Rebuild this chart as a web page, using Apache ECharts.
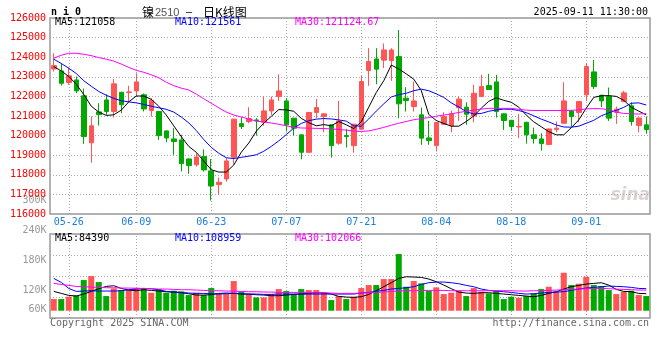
<!DOCTYPE html>
<html><head><meta charset="utf-8">
<script src="https://cdn.jsdelivr.net/npm/echarts@6/dist/echarts.min.js"></script>
<style>html,body{margin:0;padding:0;background:#fff}#c{width:660px;height:360px}</style>
</head><body><div id="c"></div>
<script>
// ---------- DATA ----------
const dates = ['05-22','05-23','05-26','05-27','05-28','05-29','05-30','06-03','06-04','06-05',
'06-06','06-09','06-10','06-11','06-12','06-13','06-16','06-17','06-18','06-19',
'06-20','06-23','06-24','06-25','06-26','06-27','06-30','07-01','07-02','07-03',
'07-04','07-07','07-08','07-09','07-10','07-11','07-14','07-15','07-16','07-17',
'07-18','07-21','07-22','07-23','07-24','07-25','07-28','07-29','07-30','07-31',
'08-01','08-04','08-05','08-06','08-07','08-08','08-11','08-12','08-13','08-14',
'08-15','08-18','08-19','08-20','08-21','08-22','08-25','08-26','08-27','08-28',
'08-29','09-01','09-02','09-03','09-04','09-05','09-08','09-09','09-10','09-11'];
const opens = [123400,123300,122710,122840,122030,119630,121210,121820,121230,122210,
122200,122280,122080,121280,121230,120240,119830,119780,118810,118510,
118930,118200,117500,117790,118900,120610,120720,120800,120680,121260,
121990,121770,120890,120040,119150,121180,120970,120550,119610,120000,
119490,120330,123320,123910,123850,123830,124030,121910,121480,121060,
119880,119490,120580,120500,121430,121450,121000,121990,122550,122740,
121110,120780,120440,120680,120040,119830,119540,120310,120630,121260,
121180,122080,123250,122060,121990,121180,121740,121520,120510,120550];
const closes = [123570,122670,123050,122280,119950,120500,121070,121230,122640,121570,
122230,122740,121360,121800,120000,119880,119700,118570,118470,118910,
118250,117430,117620,118710,120840,120460,120870,120750,121260,121820,
122280,120550,120380,119150,121180,121430,121110,119490,120750,119950,
120580,122760,123780,123390,124370,124370,121620,121790,121770,119870,
119750,120670,120970,121110,121860,121090,122160,122500,122350,121230,
120770,120460,120470,120040,119850,119590,120340,120380,121770,120970,
121740,123520,122500,121770,120890,121350,122180,120720,120900,120310];
const lows = [123270,122550,122590,122160,119580,118620,120510,121060,120920,121140,
121700,121990,121230,120970,119780,119660,119020,118170,118050,118420,
118170,116690,117010,117650,118560,120340,120630,120000,120500,121060,
121770,120210,120000,118790,119100,120890,120170,118880,119530,119390,
119130,120290,122540,122620,123440,122790,120890,121230,121230,119530,
119530,119190,120550,120170,120750,120550,120680,121970,122330,120920,
120290,120240,119870,119590,119590,119240,119530,120170,120620,120460,
120680,121770,122380,121450,120750,120600,121700,120510,120170,120090];
const highs = [124200,123690,123470,123010,122400,120970,121650,122110,122890,122230,
122540,123180,122150,121910,121260,120260,120380,120040,118830,119100,
119300,118810,117860,118850,120860,120940,121450,120890,121990,121990,
123130,121910,120900,120060,121200,121870,121120,120560,121770,120340,
120600,123050,124460,124460,124700,124460,125390,122470,122760,121430,
120750,120680,121190,121280,121990,121700,122590,123100,123150,123100,
121130,120800,121110,120700,120410,120120,120360,120720,122720,121280,
121760,123690,123860,122080,122450,121480,122280,121700,120920,120970];
const ma5 = [123520,123300,123020,122620,122100,121500,121200,121030,121060,121300,
121720,122020,122020,121850,121500,121050,120500,119950,119450,119150,
118700,118260,118140,118140,118500,119150,119620,120220,120640,120980,
121330,121310,121240,120880,120660,120500,120560,120500,120720,120550,
120360,120700,121450,122200,122800,123600,123400,123150,122880,122300,
121080,120770,120620,120480,120480,120720,121000,121400,121750,121930,
121800,121700,121450,121050,120700,120450,120200,120040,120040,120400,
120800,121400,121950,122030,122040,122000,121800,121450,121250,121058];
const ma10 = [123900,123680,123440,123170,122800,122520,122250,122060,121900,121780,
121720,121670,121590,121500,121420,121340,121200,120950,120650,120260,
119800,119400,119100,118870,118830,118890,118950,119020,119200,119450,
119730,120050,120380,120620,120760,120840,120870,120850,120800,120740,
120500,120480,120850,121250,121620,121970,122090,122160,122290,122370,
122290,122130,121950,121670,121460,121220,121100,121130,121240,121310,
121350,121340,121280,121170,121010,120840,120700,120540,120440,120430,
120480,120630,120780,121010,121160,121290,121440,121650,121670,121561];
const ma30 = [123950,124100,124200,124200,124150,124080,123980,123900,123800,123650,
123480,123330,123230,123100,122950,122720,122550,122420,122330,122120,
121880,121650,121420,121200,121050,120950,120850,120740,120700,120640,
120580,120500,120420,120390,120380,120370,120360,120340,120310,120280,
120230,120210,120240,120320,120420,120530,120630,120720,120810,120870,
120920,120990,121050,121110,121180,121240,121300,121350,121390,121390,
121390,121390,121340,121300,121280,121280,121280,121280,121280,121290,
121310,121360,121380,121370,121320,121200,121130,121110,121100,121125];
const volumes = [57750,57750,69300,75900,151800,171600,141900,72600,110550,102300,
102300,113850,110550,89100,107250,89100,99000,95700,77550,89100,
77550,112200,82500,82500,146850,95700,82500,66000,66000,82500,
107250,97350,82500,107250,102300,102300,90750,52800,72600,57750,
69300,112200,127050,127050,156750,156750,280500,118800,146850,135300,
99000,115500,82500,89100,99000,72600,112200,94050,85800,99000,
57750,69300,64350,72600,85800,107250,118800,94050,188100,127050,
133650,168300,127050,122100,102300,82500,94050,99000,77550,72600];
const volMa5 = [95700,85800,75900,72600,82500,95700,108900,120450,123750,110550,
102300,99000,103950,100650,97350,94050,92400,89100,84150,77550,
77550,79200,85800,87450,85800,82500,82500,79200,77550,74250,
74250,77550,80850,82500,85800,89100,87450,82500,70950,67650,
66000,69300,80850,99000,118800,138600,160050,168300,166650,165000,
156750,143550,127050,108900,92400,87450,85800,89100,89100,85800,
82500,79200,75900,72600,69300,75900,85800,94050,107250,118800,
125400,132000,135300,138600,127050,105600,95700,94050,85800,84390];
const volMa10 = [160050,140250,110550,95700,97350,99000,97350,97350,97350,99000,
103950,107250,110550,108900,103950,95700,92400,90750,87450,85800,
85800,84150,82500,84150,85800,84150,82500,82500,80850,80850,
82500,82500,82500,82500,82500,82500,82500,82500,82500,82500,
82500,87450,90750,95700,100650,107250,110550,113850,118800,130350,
138600,141900,141900,138600,133650,125400,118800,107250,100650,97350,
94050,90750,85800,82500,84150,87450,90750,92400,94050,100650,
107250,112200,115500,118800,122100,120450,118800,115500,110550,108959];
const volMa30 = [135300,130350,125400,120450,118800,117150,115500,113850,113850,112200,
112200,110550,110550,108900,107250,107250,105600,103950,103950,102300,
100650,99000,99000,97350,97350,95700,94050,94050,92400,92400,
90750,90750,90750,90750,90750,89100,89100,87450,85800,85800,
85800,87450,89100,90750,92400,95700,97350,99000,99000,100650,
100650,100650,100650,99000,99000,99000,99000,99000,99000,99000,
99000,99000,97350,97350,99000,99000,100650,102300,103950,105600,
107250,108900,110550,110550,108900,107250,105600,103950,102300,102066];
const dateTickLabels = ['05-26','06-09','06-23','07-07','07-21','08-04','08-18','09-01'];
const priceMin = 116000, priceMax = 126000, priceStep = 1000;
const volTickLabels = ['300K','240K','180K','120K','60K'];
const symbolName = 'n i 0';
const titleParts = ['镍', '2510', '–', '日K线图'];
const timestamp = '2025-09-11 11:30:00';
const priceLegend = ['MA5:121058', 'MA10:121561', 'MA30:121124.67'];
const volLegend = ['MA5:84390', 'MA10:108959', 'MA30:102066'];
const footLeft = 'Copyright 2025 SINA.COM';
const footRight = 'http://finance.sina.com.cn';

// ---------- STYLE / LAYOUT ----------
const UP = '#ff5555', DOWN = '#00a800';
const MONO = '"DejaVu Sans Mono", "Liberation Mono", monospace';
const GRIDC = '#aaaaaa';
const volTickY = [200.8, 230, 260.5, 290, 309.5];
const legendX = [55, 175, 295];
const legendColors = ['#000000', '#0000ff', '#ff00ff'];
const isDateTick = (i, v) => dateTickLabels.indexOf(v) >= 0;

const chart = echarts.init(document.getElementById('c'), null, {renderer: 'canvas'});

const graphic = [];
graphic.push({type: 'text', x: 51, y: 12, style: {text: symbolName, font: 'bold 10px ' + MONO, fill: '#000', textVerticalAlign: 'middle'}});
graphic.push({type: 'text', x: 142, y: 12, style: {text: titleParts[0], font: '12px "Noto Sans CJK SC"', fill: '#000', textVerticalAlign: 'middle'}});
graphic.push({type: 'text', x: 155, y: 12.5, style: {text: titleParts[1], font: '11px "Liberation Sans"', fill: '#555', textVerticalAlign: 'middle'}});
graphic.push({type: 'text', x: 186, y: 12, style: {text: titleParts[2], font: '11px "Liberation Sans"', fill: '#000', textVerticalAlign: 'middle'}});
graphic.push({type: 'text', x: 203, y: 12, style: {text: titleParts[3], font: '12px "Noto Sans CJK SC"', fill: '#000', textVerticalAlign: 'middle'}});
graphic.push({type: 'text', x: 648, y: 12, style: {text: timestamp, font: '10px ' + MONO, fill: '#000', textAlign: 'right', textVerticalAlign: 'middle'}});
priceLegend.forEach((t, k) => graphic.push({type: 'text', x: legendX[k], y: 22, z: 10, style: {text: t, font: '10px ' + MONO, fill: legendColors[k], textVerticalAlign: 'middle'}}));
volLegend.forEach((t, k) => graphic.push({type: 'text', x: legendX[k], y: 238.5, z: 10, style: {text: t, font: '10px ' + MONO, fill: legendColors[k], textVerticalAlign: 'middle'}}));
volTickLabels.forEach((t, k) => graphic.push({type: 'text', x: 46.5, y: volTickY[k], style: {text: t, font: '10px ' + MONO, fill: '#999', textAlign: 'right', textVerticalAlign: 'middle'}}));
graphic.push({type: 'text', x: 50, y: 323, style: {text: footLeft, font: '10px ' + MONO, fill: '#666', textVerticalAlign: 'middle'}});
graphic.push({type: 'text', x: 649, y: 323, style: {text: footRight, font: '10px ' + MONO, fill: '#666', textAlign: 'right', textVerticalAlign: 'middle'}});
graphic.push({type: 'text', x: 650, y: 196, z: 0, style: {text: 'sina', font: 'italic bold 17px "DejaVu Sans"', fill: 'rgba(190,175,175,0.55)', textAlign: 'right', textVerticalAlign: 'middle'}});

const candleData = dates.map((d, i) => [opens[i], closes[i], lows[i], highs[i]]);
const volData = volumes.map((v, i) => ({value: v, itemStyle: {color: closes[i] >= opens[i] ? UP : DOWN}}));

const lineS = (name, data, color, xi, yi) => ({
  name, type: 'line', data, xAxisIndex: xi, yAxisIndex: yi, symbol: 'none', silent: true,
  lineStyle: {width: 1, color}, z: 5
});

const option = {
  animation: false,
  backgroundColor: '#fff',
  graphic,
  grid: [
    {left: 50, right: 10, top: 18, height: 196, show: true, borderColor: '#999', borderWidth: 1.5, backgroundColor: 'transparent'},
    {left: 50, right: 10, top: 234, height: 84, show: true, borderColor: '#999', borderWidth: 1.5, backgroundColor: 'transparent'}
  ],
  xAxis: [
    {type: 'category', gridIndex: 0, data: dates, boundaryGap: true,
     axisLine: {show: false},
     axisTick: {show: true, inside: true, alignWithLabel: true, length: 196, interval: isDateTick, lineStyle: {color: GRIDC, width: 1, type: [1, 2]}},
     axisLabel: {interval: isDateTick, color: '#1a7fe0', fontFamily: MONO, fontSize: 10, margin: 3},
     splitLine: {show: false}},
    {type: 'category', gridIndex: 1, data: dates, boundaryGap: true,
     axisLine: {show: false},
     axisTick: {show: true, inside: true, alignWithLabel: true, length: 84, interval: isDateTick, lineStyle: {color: GRIDC, width: 1, type: [1, 2]}},
     axisLabel: {show: false}, splitLine: {show: false}}
  ],
  yAxis: [
    {type: 'value', gridIndex: 0, min: priceMin, max: priceMax, interval: priceStep,
     axisLine: {show: false}, axisTick: {show: false},
     axisLabel: {color: '#ff0000', fontFamily: MONO, fontSize: 10, margin: 4, padding: [0, 0, 4, 0], formatter: v => String(v)},
     splitLine: {show: true, lineStyle: {color: GRIDC, width: 1, type: [1, 2]}}},
    {type: 'value', gridIndex: 1, min: 0, max: 4, interval: 1,
     axisLine: {show: false}, axisTick: {show: false}, axisLabel: {show: false},
     splitLine: {show: true, lineStyle: {color: GRIDC, width: 1, type: [1, 2]}}},
    {type: 'value', gridIndex: 1, min: -36000, max: 379800, position: 'right',
     axisLine: {show: false}, axisTick: {show: false}, axisLabel: {show: false}, splitLine: {show: false}}
  ],
  series: [
    {type: 'candlestick', xAxisIndex: 0, yAxisIndex: 0, data: candleData, barWidth: 5, z: 3,
     itemStyle: {color: UP, color0: DOWN, borderColor: UP, borderColor0: DOWN, borderWidth: 1}},
    lineS('MA5', ma5, '#000000', 0, 0),
    lineS('MA10', ma10, '#0000ff', 0, 0),
    lineS('MA30', ma30, '#ff00ff', 0, 0),
    {type: 'bar', xAxisIndex: 1, yAxisIndex: 2, data: volData, barWidth: 6, z: 3},
    lineS('VMA5', volMa5, '#000000', 1, 2),
    lineS('VMA10', volMa10, '#0000ff', 1, 2),
    lineS('VMA30', volMa30, '#ff00ff', 1, 2)
  ]
};
chart.setOption(option);
</script>
</body></html>
